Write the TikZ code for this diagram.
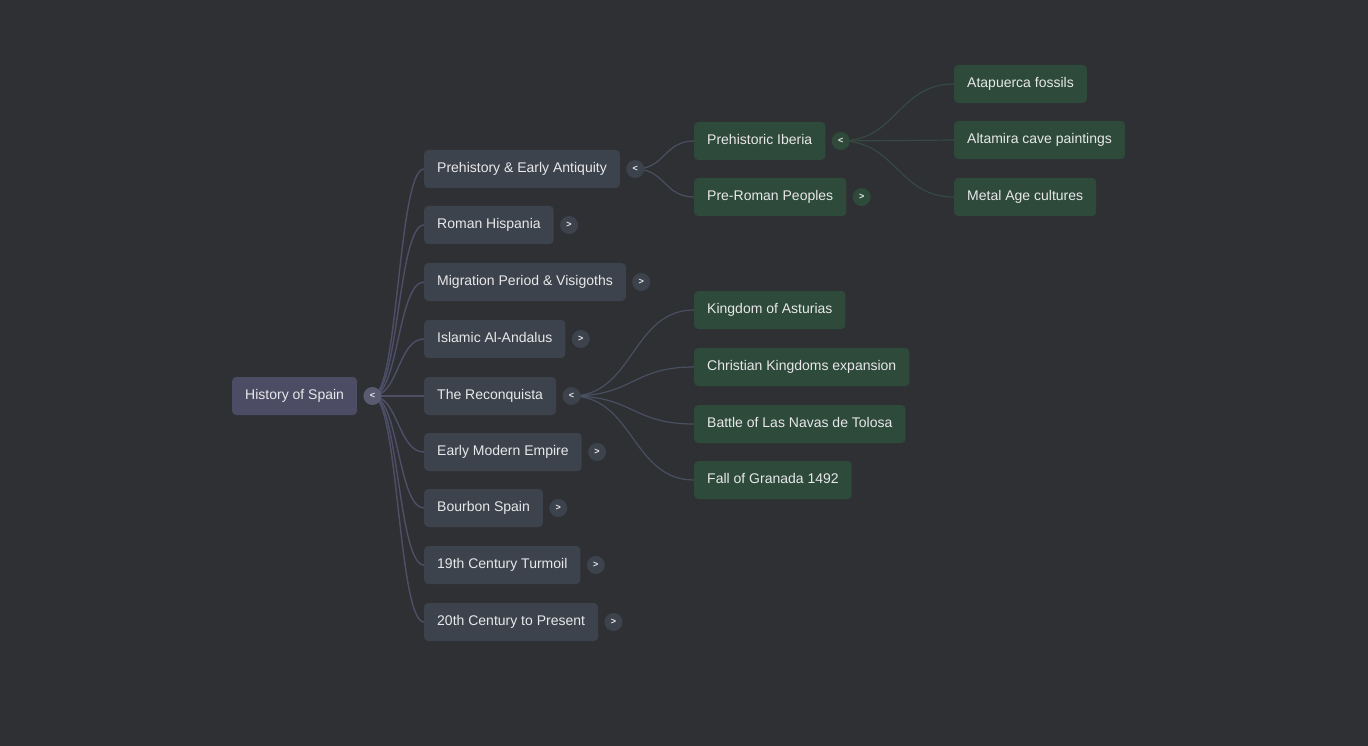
\documentclass[tikz,border=0pt]{standalone}
\usepackage{fontspec}
\setmainfont{Liberation Sans}
\usetikzlibrary{positioning}
\definecolor{bgc}{HTML}{2F3034}
\definecolor{rootc}{HTML}{4C4D64}
\definecolor{lonec}{HTML}{3D434C}
\definecolor{greenc}{HTML}{2E4A3B}
\definecolor{txtc}{HTML}{E8E8EA}
\definecolor{erootc}{HTML}{4E4F67}
\definecolor{eonec}{HTML}{485060}
\definecolor{egreenc}{HTML}{354A40}
\pgfdeclarelayer{bg}
\pgfsetlayers{bg,main}
\begin{document}
\begin{tikzpicture}[x=1pt,y=1pt,
  box/.style={rounded corners=4pt, minimum height=38pt, inner xsep=13pt, inner ysep=0pt,
    anchor=west, text=txtc, font=\fontsize{14}{17}\selectfont, text height=10pt, text depth=3pt},
  rootbox/.style={box, fill=rootc},
  onebox/.style={box, fill=lonec},
  greenbox/.style={box, fill=greenc},
  tog/.style={circle, minimum size=18pt, inner sep=0pt, font=\fontsize{9}{9}\selectfont\bfseries, text=txtc, right=6pt of #1},
  togroot/.style={tog=#1, fill=rootc!92!white},
  togone/.style={tog=#1, fill=lonec},
  toggreen/.style={tog=#1, fill=greenc},
  eroot/.style={draw=erootc, line width=1.4pt},
  eone/.style={draw=eonec, line width=1.2pt},
  egreen/.style={draw=egreenc, line width=1.2pt}]
\begin{pgfonlayer}{bg}
\fill[bgc] (0,0) rectangle (1368,-746);
\end{pgfonlayer}
\useasboundingbox (0,0) rectangle (1368,-746);
% root
\node[rootbox] (root) at (232,-396) {History of Spain};
\node[togroot=root] (troot) {<};
% level 1
\node[onebox] (p1) at (424,-169) {Prehistory \& Early Antiquity};
\node[togone=p1] (tp1) {<};
\node[onebox] (p2) at (424,-225) {Roman Hispania};
\node[togone=p2] (tp2) {>};
\node[onebox] (p3) at (424,-282) {Migration Period \& Visigoths};
\node[togone=p3] (tp3) {>};
\node[onebox] (p4) at (424,-339) {Islamic Al-Andalus};
\node[togone=p4] (tp4) {>};
\node[onebox] (p5) at (424,-396) {The Reconquista};
\node[togone=p5] (tp5) {<};
\node[onebox] (p6) at (424,-452) {Early Modern Empire};
\node[togone=p6] (tp6) {>};
\node[onebox] (p7) at (424,-508) {Bourbon Spain};
\node[togone=p7] (tp7) {>};
\node[onebox] (p8) at (424,-565) {19th Century Turmoil};
\node[togone=p8] (tp8) {>};
\node[onebox] (p9) at (424,-622) {20th Century to Present};
\node[togone=p9] (tp9) {>};
% level 2 (prehistory)
\node[greenbox] (q1) at (694,-141) {Prehistoric Iberia};
\node[toggreen=q1] (tq1) {<};
\node[greenbox] (q2) at (694,-197) {Pre-Roman Peoples};
\node[toggreen=q2] (tq2) {>};
% level 3
\node[greenbox] (s1) at (954,-84) {Atapuerca fossils};
\node[greenbox] (s2) at (954,-140) {Altamira cave paintings};
\node[greenbox] (s3) at (954,-197) {Metal Age cultures};
% level 2 (reconquista)
\node[greenbox] (r1) at (694,-310) {Kingdom of Asturias};
\node[greenbox] (r2) at (694,-367) {Christian Kingdoms expansion};
\node[greenbox] (r3) at (694,-424) {Battle of Las Navas de Tolosa};
\node[greenbox] (r4) at (694,-480) {Fall of Granada 1492};
% edges
\begin{pgfonlayer}{bg}
\foreach \n in {p1,p2,p3,p4,p5,p6,p7,p8,p9}
  \draw[eroot] (troot.center) .. controls +(26,0) and +(-26,0) .. (\n.west);
\foreach \n in {q1,q2}
  \draw[eone] (tp1.center) .. controls +(30,0) and +(-30,0) .. (\n.west);
\foreach \n in {s1,s2,s3}
  \draw[egreen] (tq1.center) .. controls +(56,0) and +(-56,0) .. (\n.west);
\foreach \n in {r1,r2,r3,r4}
  \draw[eone] (tp5.center) .. controls +(62,0) and +(-62,0) .. (\n.west);
\end{pgfonlayer}
\end{tikzpicture}
\end{document}
